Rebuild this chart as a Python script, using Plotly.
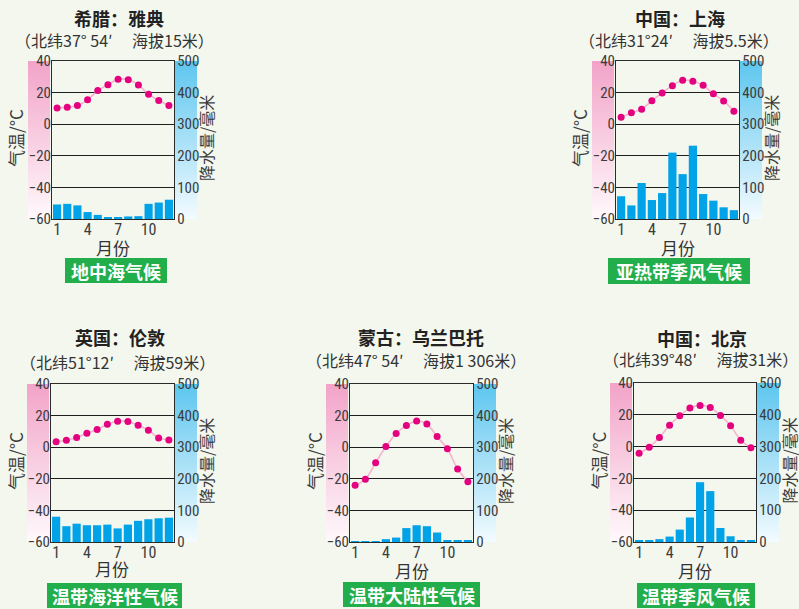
import base64
import plotly.graph_objects as go

# ---- monthly climate data -------------------------------------------------
months = list(range(1, 13))
month_ticks = [1, 4, 7, 10]
temp_ticks = [-60, -40, -20, 0, 20, 40]
prec_ticks = [0, 100, 200, 300, 400, 500]

athens_temp = [10.3, 10.7, 11.8, 15.4, 21.3, 25.0, 28.4, 28.2, 24.8, 18.9, 15.0, 11.8]
athens_prec = [46, 48, 43, 22, 13, 6, 5, 8, 9, 48, 52, 61]

shanghai_temp = [4.4, 7.2, 9.5, 14.9, 19.8, 24.4, 27.8, 27.2, 24.6, 19.2, 14.7, 8.2]
shanghai_prec = [72, 43, 114, 60, 82, 210, 142, 232, 79, 58, 37, 28]

london_temp = [3.4, 4.4, 6.1, 8.8, 11.2, 14.5, 16.4, 16.2, 13.9, 10.7, 5.9, 4.6]
london_prec = [80, 50, 58, 53, 53, 55, 43, 55, 67, 72, 75, 77]

ulaanbaatar_temp = [-24.1, -20.3, -9.9, 0.4, 8.6, 13.8, 16.6, 14.7, 6.7, -1.0, -13.8, -21.8]
ulaanbaatar_prec = [1, 1, 2, 9, 14, 44, 53, 50, 30, 5, 4, 4]

beijing_temp = [-4.2, -0.4, 5.7, 13.5, 19.4, 24.2, 25.9, 24.6, 19.6, 13.1, 4.0, -0.8]
beijing_prec = [4, 5, 9, 17, 39, 77, 188, 160, 44, 18, 6, 4]

station_names = ["希腊：雅典", "中国：上海", "英国：伦敦", "蒙古：乌兰巴托", "中国：北京"]
station_info = [
    "（北纬37° 54′　 海拔15米）",
    "（北纬31°24′　 海拔5.5米）",
    "（北纬51°12′　 海拔59米）",
    "（北纬47° 54′　 海拔1 306米）",
    "（北纬39°48′　 海拔31米）",
]
climate_types = ["地中海气候", "亚热带季风气候", "温带海洋性气候", "温带大陆性气候", "温带季风气候"]
temps = [athens_temp, shanghai_temp, london_temp, ulaanbaatar_temp, beijing_temp]
precs = [athens_prec, shanghai_prec, london_prec, ulaanbaatar_prec, beijing_prec]

# ---- page geometry (pixels) -------------------------------------------------
W, H = 799, 609
# plot box l, t, r, b ; title centre x, title y, subtitle centre x, subtitle y
panels = [
    dict(box=(52, 61, 174, 219), tx=119, ty=18, sx=114, sy=40, month_y=247, green=(65, 258, 167, 283)),
    dict(box=(616, 61, 739, 219), tx=680, ty=18, sx=679, sy=40, month_y=247, green=(608, 258, 750, 284)),
    dict(box=(51, 384, 174, 542), tx=120, ty=337, sx=117, sy=362, month_y=568, green=(47, 583, 182, 608)),
    dict(box=(350, 384, 473, 542), tx=421, ty=337, sx=416, sy=360, month_y=570, green=(343, 582, 480, 607)),
    dict(box=(634, 383, 756, 542), tx=702, ty=338, sx=700, sy=359, month_y=570, green=(637, 583, 755, 608)),
]

BG = "#F3F7EE"
BAR = "#00A2E8"
DOT = "#E4007F"
LINE = "#F6B3CF"
GREEN = "#22AE4B"
FRAME = "#2B2B2B"
TXT = "#3C3C3C"
NUM_FONT = "Roboto Condensed, Liberation Sans Narrow, Arial Narrow, Liberation Sans, sans-serif"
CJK = "Noto Sans CJK SC, sans-serif"


def fx(x):
    return x / W


def fy(y):
    return 1 - y / H


def gradient_uri(top, bottom):
    svg = (
        '<svg xmlns="http://www.w3.org/2000/svg" width="10" height="100" preserveAspectRatio="none">'
        '<defs><linearGradient id="g" x1="0" y1="0" x2="0" y2="1">'
        f'<stop offset="0" stop-color="{top}"/><stop offset="1" stop-color="{bottom}"/>'
        '</linearGradient></defs><rect width="10" height="100" fill="url(#g)"/></svg>'
    )
    return "data:image/svg+xml;base64," + base64.b64encode(svg.encode()).decode()


pink_band = gradient_uri("#F2A3C8", "#FFF9FC")
blue_band = gradient_uri("#5DC6EF", "#F3FBFF")


def note(text, x, y, size, color, family=CJK, angle=0):
    return dict(text=text, x=fx(x), y=fy(y), xref="paper", yref="paper", showarrow=False,
                xanchor="center", yanchor="middle", textangle=angle,
                font=dict(family=family, size=size, color=color))


fig = go.Figure()
layout = dict(
    width=W, height=H, autosize=False,
    margin=dict(l=0, r=0, t=0, b=0, autoexpand=False),
    paper_bgcolor=BG, plot_bgcolor="rgba(0,0,0,0)",
    showlegend=False,
    font=dict(family=NUM_FONT, size=15, color=TXT),
)
annotations, shapes, images = [], [], []

for i, p in enumerate(panels):
    n = i + 1
    xa = "x" if n == 1 else f"x{n}"
    ya_p = f"y{2 * n - 1}" if n > 1 else "y"      # precipitation (right)
    ya_t = f"y{2 * n}"                             # temperature (left)
    l, t, r, b = p["box"]
    mid = (t + b) / 2

    # precipitation bars
    fig.add_trace(go.Bar(x=months, y=precs[i], xaxis=xa, yaxis=ya_p,
                         marker=dict(color=BAR, line=dict(width=0)), width=0.8))
    # temperature curve and points
    fig.add_trace(go.Scatter(x=months, y=temps[i], xaxis=xa, yaxis=ya_t, mode="lines+markers",
                             line=dict(color=LINE, width=1.6, shape="spline", smoothing=0.9),
                             marker=dict(color=DOT, size=7)))

    xkey = "xaxis" if n == 1 else f"xaxis{n}"
    pkey = "yaxis" if n == 1 else f"yaxis{2 * n - 1}"
    tkey = f"yaxis{2 * n}"
    tick_font = dict(family=NUM_FONT, size=15, color=TXT)
    layout[xkey] = dict(domain=[fx(l), fx(r)], anchor=ya_p, range=[0.5, 12.5], automargin=False,
                        tickmode="array", tickvals=month_ticks, ticktext=[str(m) for m in month_ticks],
                        showgrid=False, zeroline=False, showline=True, mirror=True,
                        linecolor=FRAME, linewidth=1.3, ticks="", ticklabelstandoff=-4,
                        tickfont=dict(family=NUM_FONT, size=16, color=TXT), fixedrange=True)
    layout[pkey] = dict(domain=[fy(b), fy(t)], anchor=xa, side="right", range=[0, 500],
                        automargin=False, tickmode="array", tickvals=prec_ticks,
                        showgrid=True, gridcolor="#1E1E1E", gridwidth=1.2,
                        zeroline=False, showline=True, mirror=True,
                        linecolor=FRAME, linewidth=1.3, ticks="", ticklabelstandoff=-1,
                        tickfont=tick_font, fixedrange=True)
    layout[tkey] = dict(overlaying=ya_p, anchor=xa, side="left", range=[-60, 40], automargin=False,
                        tickmode="array", tickvals=temp_ticks, showgrid=False, zeroline=False,
                        showline=False, ticks="", ticklabelstandoff=0,
                        tickfont=tick_font, fixedrange=True)

    # gradient bands behind the axis numbers
    images.append(dict(source=pink_band, xref="paper", yref="paper", x=fx(l - 24), y=fy(t),
                       sizex=fx(22), sizey=(b - t) / H, sizing="stretch", layer="below",
                       xanchor="left", yanchor="top"))
    images.append(dict(source=blue_band, xref="paper", yref="paper", x=fx(r + 1), y=fy(t),
                       sizex=fx(22), sizey=(b - t) / H, sizing="stretch", layer="below",
                       xanchor="left", yanchor="top"))

    # station name and location
    annotations.append(note(f"<b>{station_names[i]}</b>", p["tx"], p["ty"], 18, "#222"))
    annotations.append(note(station_info[i], p["sx"], p["sy"], 16, "#333"))
    # axis titles
    annotations.append(note("气温/°C", l - 36, mid - 2, 17, TXT, angle=-90))
    annotations.append(note("降水量/毫米", r + 32, mid - 2, 16, TXT, angle=-90))
    annotations.append(note("月份", (l + r) / 2, p["month_y"], 17, "#333"))
    # climate type label
    gx0, gy0, gx1, gy1 = p["green"]
    shapes.append(dict(type="rect", xref="paper", yref="paper", x0=fx(gx0), x1=fx(gx1),
                       y0=fy(gy1), y1=fy(gy0), fillcolor=GREEN, line=dict(width=0)))
    annotations.append(note(f"<b>{climate_types[i]}</b>", (gx0 + gx1) / 2, (gy0 + gy1) / 2,
                            18, "white"))

layout["annotations"] = annotations
layout["shapes"] = shapes
layout["images"] = images
layout["bargap"] = 0.2
fig.update_layout(**layout)
fig.write_html("out.html")
